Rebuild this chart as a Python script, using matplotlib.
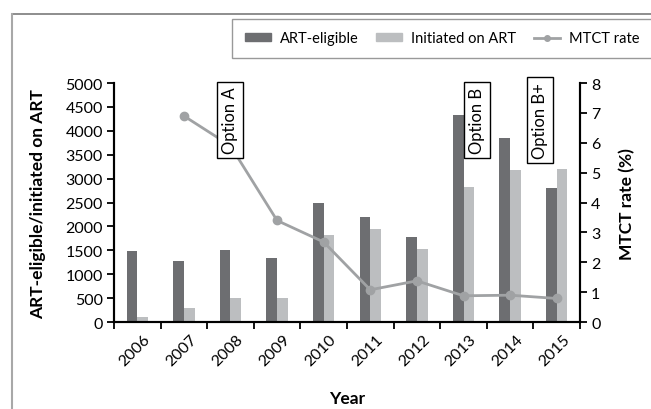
#import neccessary libraries
import numpy as np
import matplotlib
matplotlib.use("Agg")
import matplotlib.pyplot as plt
from matplotlib.lines import Line2D
from matplotlib.patches import Patch

plt.rcParams['font.family'] = ['Lato', 'DejaVu Sans']

years = ["2006", "2007", "2008", "2009", "2010", "2011", "2012", "2013", "2014", "2015"]
art_eligible = [1490, 1270, 1505, 1330, 2500, 2200, 1790, 4330, 3860, 2795]
initiated = [98, 293, 495, 502, 1830, 1940, 1530, 2835, 3185, 3195]
mtct_rate = [np.nan, 6.9, 5.9, 3.4, 2.68, 1.08, 1.38, 0.88, 0.9, 0.79]
options = ["Option A", "Option B", "Option B+"]
option_pos = [2.0, 7.28, 8.64]

dark = "#6d6e71"
light = "#bcbec0"
line_col = "#a0a2a4"

fig = plt.figure(figsize=(6.51, 4.10), dpi=100)
ax = fig.add_axes([0.175, 0.212, 0.716, 0.583])
ax2 = ax.twinx()

x = np.arange(len(years))
w = 0.23
ax.bar(x - w/2, art_eligible, w, color=dark, zorder=2)
ax.bar(x + w/2, initiated, w, color=light, zorder=2)
ax2.plot(x, mtct_rate, color=line_col, lw=2.0, marker='o', ms=6, zorder=3)

# axes limits and ticks
ax.set_xlim(-0.5, 9.5)
ax.set_ylim(0, 5000)
ax2.set_ylim(0, 8)
ax.set_yticks(range(0, 5001, 500))
ax2.set_yticks(range(0, 9))
ax.set_xticks(np.arange(-0.5, 10, 1))
ax.set_xticklabels([])
# year labels sit a little right of the category centre (like the original)
ax.set_xticks(x + 0.12, minor=True)
ax.set_xticklabels(years, minor=True, rotation=45, ha='right', va='top', rotation_mode='anchor')
ax.tick_params(axis='x', which='minor', length=0, labelsize=11.5, pad=7)
ax.tick_params(axis='x', which='major', length=5, width=1.3, direction='out')
ax.tick_params(axis='y', length=5, width=1.3, labelsize=11.5, pad=3)
ax2.tick_params(axis='y', length=5, width=1.3, labelsize=11.5, pad=3)

for a in (ax, ax2):
    a.spines['top'].set_visible(False)
    for s in ('left', 'right', 'bottom'):
        a.spines[s].set_linewidth(1.5)

ax.set_ylabel("ART-eligible/initiated on ART", fontsize=12.5, fontweight='bold', labelpad=14)
ax2.set_ylabel("MTCT rate (%)", fontsize=12.5, fontweight='bold', labelpad=13)
ax.set_xlabel("Year", fontsize=12.5, fontweight='bold', labelpad=16)

# option boxes over the line
for name, pos in zip(options, option_pos):
    ax2.text(pos, 6.76, name, rotation=90, ha='center', va='center', fontsize=12, zorder=5,
             bbox=dict(boxstyle='square,pad=0.3', fc='white', ec='black', lw=1))

# legend
handles = [Patch(color=dark), Patch(color=light),
           Line2D([0], [0], color=line_col, lw=2, marker='o', ms=4)]
leg = fig.legend(handles, ["ART-eligible", "Initiated on ART", "MTCT rate"], ncol=3,
                 loc='center', bbox_to_anchor=(0.679, 0.904), fontsize=10.5, frameon=True,
                 fancybox=False, edgecolor='#808080', handlelength=1.8, handleheight=0.5,
                 handletextpad=0.6, columnspacing=1.2, borderpad=0.85)
leg.get_frame().set_linewidth(1.0)

# outer frame
fig.add_artist(Line2D([12/651, 1], [1 - 14.5/410, 1 - 14.5/410], color='#7a7a7a', lw=1.2))
fig.add_artist(Line2D([12/651, 12/651], [0, 1 - 14.5/410], color='#a8a8a8', lw=1.5))

plt.savefig("out.png", dpi=100)
